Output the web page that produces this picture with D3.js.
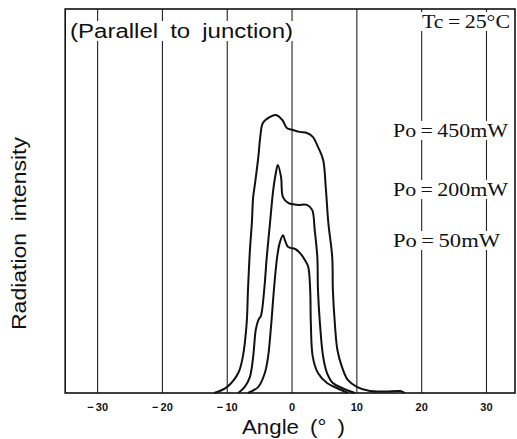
<!DOCTYPE html>
<html>
<head>
<meta charset="utf-8">
<script src="https://cdnjs.cloudflare.com/ajax/libs/d3/7.8.5/d3.min.js"></script>
<style>
  html, body { margin: 0; padding: 0; background: #fff; }
  svg { display: block; }
</style>
</head>
<body>
<div id="chart"></div>
<script>
// angle ticks along the bottom
var angleTicks = [-30, -20, -10, 0, 10, 20, 30];

// far-field pattern, parallel to junction: [angle (deg), relative intensity]
var po450 = [[-12.0, 0], [-10.0, 1.6], [-8.3, 5.2], [-7.6, 9.4], [-7.0, 18.2], [-6.8, 26.8],
  [-6.5, 37.2], [-6.2, 44.3], [-6.0, 51.0], [-5.7, 54.7], [-5.2, 61.5], [-4.9, 66.7],
  [-4.5, 70.3], [-3.4, 71.9], [-2.5, 72.4], [-1.5, 71.1], [-0.8, 69.0], [0.15, 68.5],
  [1.2, 68.0], [2.3, 67.7], [3.2, 66.7], [4.0, 64.1], [4.8, 60.7], [5.2, 53.6],
  [5.6, 44.3], [6.2, 35.4], [6.3, 26.8], [6.6, 18.2], [7.0, 11.2], [7.7, 6.8],
  [8.6, 3.4], [10.0, 1.6], [12.0, 0.5], [14.4, 0.4], [16.7, 0.5], [17.4, 0]];

var po200 = [[-8.3, 0], [-7.3, 1.6], [-6.5, 4.2], [-6.0, 9.4], [-5.6, 16.4], [-5.2, 19.0],
  [-4.8, 20.1], [-4.3, 26.8], [-3.9, 35.4], [-3.4, 44.3], [-2.9, 52.9], [-2.5, 57.3],
  [-2.2, 59.4], [-1.7, 56.3], [-1.4, 51.0], [-0.6, 49.5], [0.8, 49.0], [2.3, 49.0],
  [3.1, 47.7], [3.5, 42.4], [3.9, 35.4], [4.0, 26.8], [4.3, 18.2], [4.8, 9.4],
  [5.4, 5.2], [6.3, 2.6], [7.7, 1.3], [9.7, 0]];

var po50 = [[-6.8, 0], [-5.2, 1.6], [-4.2, 5.2], [-3.7, 9.4], [-3.2, 18.2], [-2.8, 26.8],
  [-2.3, 35.4], [-1.9, 39.1], [-1.4, 41.1], [-1.1, 39.8], [-0.6, 38.0], [0.5, 37.5],
  [1.2, 36.5], [2.0, 34.6], [2.5, 32.8], [2.8, 26.8], [2.9, 18.2], [3.2, 9.4],
  [4.0, 5.2], [5.4, 2.6], [6.9, 1.3], [8.6, 0]];

var seriesList = [po450, po200, po50];
var seriesLabels = ["Po\u2009=\u2009450mW", "Po\u2009=\u2009200mW", "Po\u2009=\u200950mW"];

(function() {
  var width = 517, height = 439;
  // plot frame edges (note: "top" is a reserved window global, so keep these local)
  var frame = { left: 65.2, right: 515, top: 9, bottom: 393 };
  var sans = "'Liberation Sans', Arial, sans-serif";
  var serif = "'Liberation Serif', 'Times New Roman', serif";

  var svg = d3.select("#chart").append("svg")
      .attr("width", width)
      .attr("height", height);

  var x = d3.scaleLinear().domain([-35, 34.4]).range([frame.left, frame.right]);
  var y = d3.scaleLinear().domain([0, 100]).range([frame.bottom, frame.top]);

  // vertical grid lines at every tick
  svg.append("g").attr("class", "grid")
    .selectAll("line")
    .data(angleTicks)
    .enter().append("line")
      .attr("x1", function(d) { return x(d); })
      .attr("x2", function(d) { return x(d); })
      .attr("y1", frame.top)
      .attr("y2", frame.bottom)
      .style("stroke", "#222")
      .style("stroke-width", 1.1);

  // labels inside the plot sit on white so they break the grid lines
  var labels = svg.append("g");

  function boxedText(txt, tx, ty, font, size, len) {
    var t = labels.append("text")
        .attr("x", tx)
        .attr("y", ty)
        .attr("textLength", len)
        .attr("lengthAdjust", "spacingAndGlyphs")
        .style("font-family", font)
        .style("font-size", size + "px")
        .style("fill", "#111")
        .text(txt);
    var bb = t.node().getBBox();
    labels.insert("rect", function() { return t.node(); })
        .attr("x", bb.x - 2)
        .attr("y", bb.y + 1)
        .attr("width", bb.width + 4)
        .attr("height", bb.height - 2)
        .style("fill", "#fff");
    return t;
  }

  boxedText("(Parallel\u2002to\u2002junction)", 70, 38, sans, 20, 223);
  boxedText("Tc\u2009=\u200925\u00b0C", 422, 28, serif, 19, 88);

  var labelY = [137, 196, 247];
  var labelLen = [115, 115, 107];
  seriesLabels.forEach(function(s, i) {
    boxedText(s, 393, labelY[i], serif, 19, labelLen[i]);
  });

  // frame
  svg.append("rect")
      .attr("x", frame.left)
      .attr("y", frame.top)
      .attr("width", frame.right - frame.left)
      .attr("height", frame.bottom - frame.top)
      .style("fill", "none")
      .style("stroke", "#111")
      .style("stroke-width", 1.6);

  // curves
  var line = d3.line()
      .x(function(d) { return x(d[0]); })
      .y(function(d) { return y(d[1]); })
      .curve(d3.curveCatmullRom.alpha(0.5));

  svg.append("g").selectAll("path")
    .data(seriesList)
    .enter().append("path")
      .attr("d", line)
      .style("fill", "none")
      .style("stroke", "#111")
      .style("stroke-width", 2)
      .style("stroke-linejoin", "round");

  // tick labels
  svg.append("g").selectAll("text")
    .data(angleTicks)
    .enter().append("text")
      .attr("x", function(d) { return x(d); })
      .attr("y", 411)
      .attr("text-anchor", "middle")
      .style("font-family", sans)
      .style("font-size", "11px")
      .style("font-weight", "bold")
      .style("fill", "#111")
      .text(function(d) { return d < 0 ? "\u2212\u2009" + Math.abs(d) : d; });

  // axis titles
  svg.append("text")
      .attr("x", 242)
      .attr("y", 434)
      .attr("textLength", 103)
      .attr("lengthAdjust", "spacingAndGlyphs")
      .style("font-family", sans)
      .style("font-size", "21px")
      .style("fill", "#111")
      .text("Angle\u2002(\u00b0\u2002)");

  svg.append("text")
      .attr("transform", "translate(26,330) rotate(-90)")
      .attr("textLength", 193)
      .attr("lengthAdjust", "spacingAndGlyphs")
      .style("font-family", sans)
      .style("font-size", "20px")
      .style("fill", "#111")
      .text("Radiation\u2002intensity");
})();
</script>
</body>
</html>
